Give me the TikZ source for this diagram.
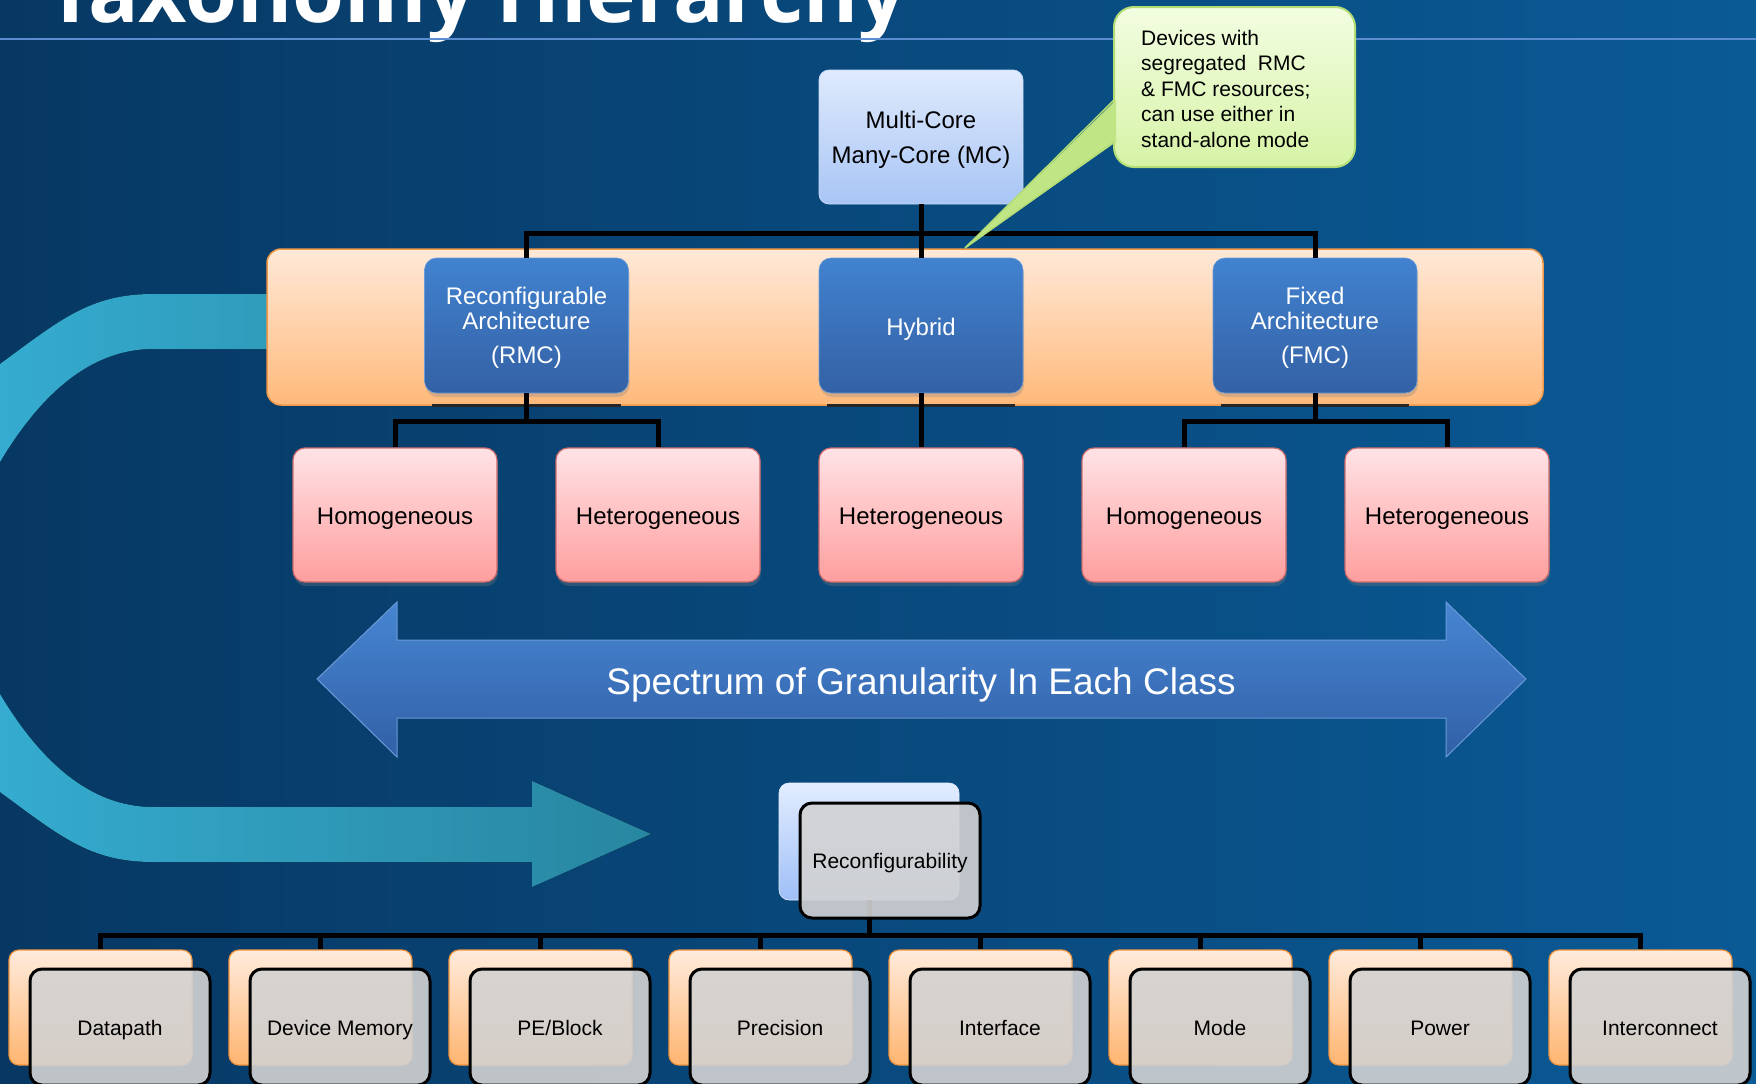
\documentclass[tikz,border=0pt]{standalone}
\usepackage{fontspec}
\setmainfont{Liberation Sans}
\newfontfamily\titlefont{Open Sans}
\usetikzlibrary{shadows,calc}
\definecolor{bgL}{HTML}{073863}
\definecolor{bgR}{HTML}{0A5A96}
\definecolor{lineC}{HTML}{5B8DD0}
\definecolor{mcT}{HTML}{DFEAFD}
\definecolor{mcB}{HTML}{A8C5F5}
\definecolor{mcD}{HTML}{C8DAF8}
\definecolor{caT}{HTML}{F3FDE2}
\definecolor{caB}{HTML}{D6F3A6}
\definecolor{caD}{HTML}{B3DD74}
\definecolor{caP}{HTML}{BFE584}
\definecolor{bandT}{HTML}{FFE9D8}
\definecolor{bandB}{HTML}{FFB97A}
\definecolor{bandD}{HTML}{F39A4A}
\definecolor{blueT}{HTML}{4182CF}
\definecolor{blueB}{HTML}{3461A5}
\definecolor{pinkT}{HTML}{FFE3E6}
\definecolor{pinkB}{HTML}{FF9E9E}
\definecolor{pinkD}{HTML}{CF6B6B}
\definecolor{grayF}{HTML}{D2D2D2}
\definecolor{rbT}{HTML}{E2EDFF}
\definecolor{rbB}{HTML}{9FBFF7}
\definecolor{obT}{HTML}{FFEBDC}
\definecolor{obB}{HTML}{FFB570}
\definecolor{obD}{HTML}{F3953F}
\definecolor{arT}{HTML}{4786D2}
\definecolor{arB}{HTML}{3160A6}
\definecolor{arD}{HTML}{6A9ADA}
\definecolor{cyL}{HTML}{37B3D9}
\definecolor{cyR}{HTML}{2886A0}
\newcommand{\topstrut}{\rule{0pt}{22pt}}
\begin{document}
\begin{tikzpicture}[x=1pt,y=-1pt,
  conn/.style={line width=5pt, black},
  mcbox/.style={rounded corners=10pt, minimum width=204pt, minimum height=134pt, inner sep=0pt,
    top color=mcT, bottom color=mcB, draw=mcD, line width=0.8pt, align=center,
    font=\fontsize{24}{35}\selectfont},
  bandbox/.style={rounded corners=14pt, minimum width=1276pt, minimum height=156pt, inner sep=0pt,
    top color=bandT, bottom color=bandB, draw=bandD, line width=1.5pt},
  bluebox/.style={rounded corners=12pt, minimum width=204pt, minimum height=135pt, inner sep=0pt,
    top color=blueT, bottom color=blueB, draw=blueT!80!white, line width=0.6pt, text=white, align=center,
    font=\fontsize{24}{25}\selectfont,
    drop shadow={opacity=0.3, shadow xshift=1pt, shadow yshift=-4pt}},
  pinkbox/.style={rounded corners=12pt, minimum width=204pt, minimum height=134pt, inner sep=0pt,
    top color=pinkT, bottom color=pinkB, draw=pinkD, line width=1.2pt,
    font=\fontsize{24}{28}\selectfont, text height=24pt, text depth=5pt,
    drop shadow={opacity=0.3, shadow xshift=1pt, shadow yshift=-4pt}},
  rbackbox/.style={rounded corners=10pt, minimum width=180pt, minimum height=117pt, inner sep=0pt,
    top color=rbT, bottom color=rbB, draw=rbT, line width=0.6pt},
  obox/.style={rounded corners=10pt, minimum width=183pt, minimum height=115pt, inner sep=0pt,
    top color=obT, bottom color=obB, draw=obD, line width=1.2pt},
  gbox/.style={rounded corners=12pt, minimum width=180pt, minimum height=116pt, inner sep=0pt,
    fill=grayF, fill opacity=0.9, text opacity=1, draw=black, draw opacity=1, line width=3pt,
    font=\fontsize{21}{25}\selectfont, text height=21pt, text depth=5pt}
]
\useasboundingbox (0,0) rectangle (1756,1084);
\clip (0,0) rectangle (1756,1084);
\fill[left color=bgL, right color=bgR] (0,0) rectangle (1756,1084);

% title and rule
\node[anchor=base west, inner sep=0pt, text=white, font=\titlefont\fontsize{84}{84}\selectfont\bfseries] (title) at (46,23) {Taxonomy Hierarchy};
\coordinate (ruleL) at (0,39);
\coordinate (ruleR) at (1756,39);
\draw[line width=2.5pt, lineC] (ruleL) -- (ruleR);

% curved cyan arrow
\fill[left color=cyL, right color=cyR]
  (300,294) -- (153,294) .. controls (90,294) and (60,320) .. (0,364)
  .. controls (-80,420) and (-130,500) .. (-130,578)
  .. controls (-130,656) and (-80,736) .. (0,792)
  .. controls (60,836) and (90,862) .. (153,862)
  -- (532,862) -- (532,887) -- (651,834) -- (532,781) -- (532,807)
  -- (153,807) .. controls (90,807) and (40,761) .. (0,694)
  .. controls (-30,641) and (-40,606) .. (-40,578)
  .. controls (-40,550) and (-30,515) .. (0,462)
  .. controls (40,395) and (90,349) .. (153,349) -- (300,349) -- cycle;

% orange band
\node[bandbox] (band) at (905,327) {};

% top level
\node[mcbox] (mc) at (921,137) {\topstrut Multi-Core\\Many-Core (MC)};
\node[bluebox] (rmc) at (526.5,325.5) {\topstrut Reconfigurable\\Architecture\\[9pt](RMC)};
\node[bluebox, text height=24pt, text depth=5pt] (hyb) at (921,325.5) {Hybrid};
\node[bluebox] (fmc) at (1315,325.5) {\topstrut Fixed\\Architecture\\[9pt](FMC)};

\foreach \b in {rmc,hyb,fmc}{
  \draw[line width=2.5pt, black!85] ([xshift=8pt,yshift=-12pt]\b.south west) -- ([xshift=-8pt,yshift=-12pt]\b.south east);
}

% second level
\node[pinkbox] (p1) at (395,515) {Homogeneous};
\node[pinkbox] (p2) at (658,515) {Heterogeneous};
\node[pinkbox] (p3) at (921,515) {Heterogeneous};
\node[pinkbox] (p4) at (1184,515) {Homogeneous};
\node[pinkbox] (p5) at (1447,515) {Heterogeneous};

% connectors
\draw[conn] (mc.south) -- ++(0,29) -| (rmc.north);
\draw[conn] (mc.south) -- ++(0,29) -| (fmc.north);
\draw[conn] (mc.south) -- (hyb.north);
\draw[conn] (rmc.south) -- ++(0,28) -| (p1.north);
\draw[conn] (rmc.south) -- ++(0,28) -| (p2.north);
\draw[conn] (hyb.south) -- (p3.north);
\draw[conn] (fmc.south) -- ++(0,28) -| (p4.north);
\draw[conn] (fmc.south) -- ++(0,28) -| (p5.north);

% callout
\node[rounded corners=20pt, minimum width=241pt, minimum height=160pt, inner sep=0pt,
  top color=caT, bottom color=caB, draw=caD, line width=2pt] (callout) at (1234.5,87) {};
\coordinate (tip) at (965,248);
\fill[caP] ([xshift=3pt,yshift=-13pt]callout.west) -- (tip) -- ([xshift=3pt,yshift=-55pt]callout.west) -- cycle;
\draw[caD, line width=1.5pt] ([xshift=1pt,yshift=-13pt]callout.west) -- (tip) -- ([xshift=1pt,yshift=-55pt]callout.west);
\node[anchor=north west, inner sep=0pt, align=left, font=\fontsize{21}{25.5}\selectfont] (ctext) at (1141,29.7)
  {Devices with\\segregated~ RMC\\\& FMC resources;\\can use either in\\stand-alone mode};

% spectrum arrow
\fill[top color=arT, bottom color=arB] (317,679) -- (397,602) -- (397,640) -- (1446,640) -- (1446,602) -- (1526,679) -- (1446,757) -- (1446,718) -- (397,718) -- (397,757) -- cycle;
\draw[arD, line width=1pt] (317,679) -- (397,602) -- (397,640) -- (1446,640) -- (1446,602) -- (1526,679) -- (1446,757) -- (1446,718) -- (397,718) -- (397,757) -- cycle;
\node[text=white, font=\fontsize{37}{40}\selectfont, text height=37pt, text depth=8pt] (spec) at (921,680) {Spectrum of Granularity In Each Class};

% reconfigurability
\node[rbackbox] (rback) at (869,841.5) {};
\foreach \i in {0,...,7}{
  \node[obox] (ob\i) at ({100.5+220*\i},1007.5) {};
  \draw[conn] (rback.south) -- ++(0,35) -| (ob\i.north);
}
\node[gbox, minimum height=115pt] (rec) at (890,860.5) {Reconfigurability};

\foreach \t [count=\j from 0] in {Datapath,Device Memory,PE/Block,Precision,Interface,Mode,Power,Interconnect}{
  \node[gbox] (gb\j) at ({120+220*\j},1027) {\t};
}
\end{tikzpicture}
\end{document}
